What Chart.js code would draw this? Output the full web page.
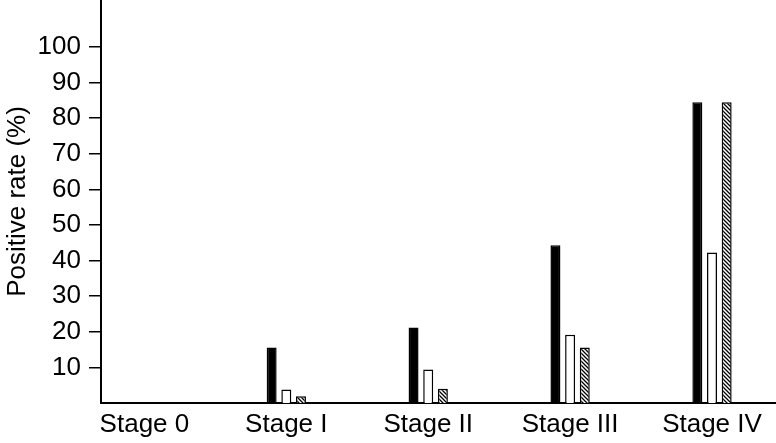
<!DOCTYPE html>
<html lang="en">
<head>
<meta charset="UTF-8">
<title>Positive rate by stage</title>
<style>
  html, body { margin: 0; padding: 0; background: #fff; }
  #chart { display: block; }
</style>
<script src="https://cdn.jsdelivr.net/npm/chart.js"></script>
</head>
<body>
<canvas id="chart" width="776" height="443"></canvas>
<script>
  // values (%)
  const stages = ['Stage 0', 'Stage I', 'Stage II', 'Stage III', 'Stage IV'];
  const seriesBlack = [0, 15.6, 21.2, 44.3, 84.5];
  const seriesWhite = [0, 3.8, 9.4, 19.2, 42.3];
  const seriesHatched = [0, 1.9, 4.0, 15.6, 84.5];
  const yTicks = [10, 20, 30, 40, 50, 60, 70, 80, 90, 100];

  Chart.defaults.font.family = "'Liberation Sans', Arial, sans-serif";
  Chart.defaults.color = '#000';

  // diagonal hatch fill
  function hatch() {
    const c = document.createElement('canvas');
    c.width = 4; c.height = 4;
    const g = c.getContext('2d');
    g.fillStyle = '#fff';
    g.fillRect(0, 0, 4, 4);
    g.strokeStyle = '#000';
    g.lineWidth = 1.3;
    g.beginPath();
    g.moveTo(-1, -1); g.lineTo(5, 5);
    g.moveTo(-1, 3); g.lineTo(1, 5);
    g.moveTo(3, -1); g.lineTo(5, 1);
    g.stroke();
    return g.createPattern(c, 'repeat');
  }

  const toPoints = arr => arr.map((v, i) => ({ x: i, y: v }));

  const common = { borderColor: '#000', borderWidth: 1.5, categoryPercentage: 0.31, barPercentage: 0.68 };

  // keep the plot flush with the canvas edges
  const noPad = s => { s.paddingTop = 0; s.paddingBottom = 0; s.paddingLeft = 0; s.paddingRight = 0; };

  new Chart(document.getElementById('chart'), {
    type: 'bar',
    data: {
      datasets: [
        { ...common, label: 'A', data: toPoints(seriesBlack), backgroundColor: '#000' },
        { ...common, label: 'B', data: toPoints(seriesWhite), backgroundColor: '#fff' },
        { ...common, label: 'C', data: toPoints(seriesHatched), backgroundColor: hatch() }
      ]
    },
    options: {
      responsive: false,
      animation: false,
      devicePixelRatio: 1,
      layout: { padding: 0 },
      plugins: { legend: { display: false }, tooltip: { enabled: false } },
      scales: {
        x: {
          type: 'linear',
          offset: false,
          min: -0.306,
          max: 4.451,
          afterBuildTicks: s => { s.ticks = stages.map((_, i) => ({ value: i })); },
          afterFit: s => { s.height = 40; noPad(s); },
          ticks: {
            font: { size: 26 },
            padding: 6,
            maxRotation: 0,
            autoSkip: false,
            callback: v => stages[v]
          },
          grid: { display: false, drawTicks: false },
          border: { display: true, color: '#000', width: 2 }
        },
        y: {
          min: 0,
          max: 113.2,
          afterBuildTicks: s => { s.ticks = yTicks.map(v => ({ value: v })); },
          afterFit: s => { s.width = 101; noPad(s); },
          ticks: { font: { size: 26 }, padding: 8 },
          grid: { drawOnChartArea: false, drawTicks: true, tickLength: 12, color: '#000', lineWidth: 1.5 },
          border: { display: true, color: '#000', width: 2 },
          title: { display: true, text: 'Positive rate (%)', font: { size: 26 }, padding: { top: 2, bottom: 0 } }
        }
      }
    }
  });
</script>
</body>
</html>
